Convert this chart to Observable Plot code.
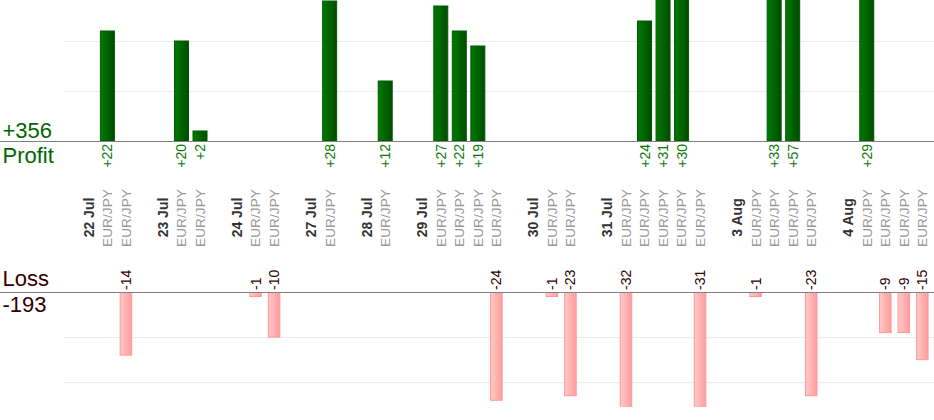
<!DOCTYPE html>
<html>
<head>
<meta charset="utf-8">
<script src="https://cdn.jsdelivr.net/npm/d3@7"></script>
<script src="https://cdn.jsdelivr.net/npm/@observablehq/plot@0.6"></script>
<style>
  html, body { margin: 0; padding: 0; background: #fff; }
  #chart { width: 934px; height: 420px; overflow: hidden; }
  #chart svg { display: block; }
</style>
</head>
<body>
<div id="chart"></div>
<script>
// ---- data ----
const dates = ["22 Jul", "23 Jul", "24 Jul", "27 Jul", "28 Jul", "29 Jul", "30 Jul", "31 Jul", "3 Aug", "4 Aug"];
const tradesByDay = [
  [22, -14],
  [20, 2],
  [-1, -10],
  [28],
  [12],
  [27, 22, 19, -24],
  [-1, -23],
  [-32, 24, 31, 30, -31],
  [-1, 33, 57, -23],
  [29, -9, -9, -15]
];
const pair = "EUR/JPY";
const profitTicks = [10, 20];
const lossTicks = [-10, -20];

// ---- table of columns ----
const slots = [];
dates.forEach((d, i) => {
  slots.push({kind: "gap", label: ""});
  slots.push({kind: "date", label: d});
  tradesByDay[i].forEach(v => slots.push({kind: "trade", label: pair, value: v}));
});
slots.forEach((s, i) => (s.slot = i));
const profits = slots.filter(s => s.kind === "trade" && s.value > 0);
const losses = slots.filter(s => s.kind === "trade" && s.value < 0);
const profitTotal = "+" + d3.sum(profits, d => d.value);
const lossTotal = String(d3.sum(losses, d => d.value));

const W = 934;
const font = "'Liberation Sans', Arial, sans-serif";
const xScale = {type: "band", domain: slots.map(s => s.slot), range: [61.1, 931.6], padding: 0, round: false, axis: null};
const green = "#0a7a0a";
const dark = "#330000";

// ---- top panel: profit ----
const profitChart = Plot.plot({
  width: W, height: 260,
  marginLeft: 0, marginRight: 0, marginTop: 0, marginBottom: 119,
  style: {fontFamily: font, background: "white", overflow: "hidden"},
  x: xScale,
  y: {domain: [0, 28.2], range: [141, 0], axis: null},
  marks: [
    Plot.ruleY(profitTicks, {stroke: "#ebebeb", insetLeft: 63}),
    Plot.barY(profits, {x: "slot", y: "value", fill: "url(#gradProfit)", stroke: "#005a00", strokeWidth: 1, insetLeft: 2.26, insetRight: 2.26, clip: true}),
    Plot.ruleY([0], {stroke: "#808080", strokeWidth: 1.2}),
    Plot.text(profits, {x: "slot", y: 0, text: d => "+" + d.value, rotate: -90, textAnchor: "end", lineAnchor: "middle", dy: 2.5, fill: green, fontSize: 14}),
    Plot.text(slots.filter(s => s.kind === "date"), {x: "slot", frameAnchor: "bottom", lineAnchor: "middle", dy: 76, text: "label", rotate: -90, textAnchor: "middle", fill: "#333", fontWeight: "bold", fontSize: 14}),
    Plot.text(slots.filter(s => s.kind === "trade"), {x: "slot", frameAnchor: "bottom", lineAnchor: "middle", dy: 76.5, text: "label", rotate: -90, textAnchor: "middle", fill: "#999", fontSize: 13.7}),
    Plot.text([profitTotal], {frameAnchor: "bottom-left", lineAnchor: "middle", text: d => d, textAnchor: "start", dx: 2, dy: -10.5, fill: "#006600", fontSize: 22}),
    Plot.text(["Profit"], {frameAnchor: "bottom-left", lineAnchor: "middle", text: d => d, textAnchor: "start", dx: 2, dy: 14.5, fill: "#006600", fontSize: 22})
  ]
});

// ---- bottom panel: loss ----
const lossChart = Plot.plot({
  width: W, height: 160,
  marginLeft: 0, marginRight: 0, marginTop: 32, marginBottom: 13,
  style: {fontFamily: font, background: "white", overflow: "hidden"},
  x: xScale,
  y: {domain: [0, -25.5], range: [32, 147], axis: null},
  marks: [
    Plot.ruleY(lossTicks, {stroke: "#ebebeb", insetLeft: 63}),
    Plot.barY(losses, {x: "slot", y: "value", fill: "url(#gradLoss)", stroke: "#ff9999", strokeWidth: 1, insetLeft: 3.5, insetRight: 3.5, clip: true}),
    Plot.ruleY([0], {stroke: "#808080", strokeWidth: 1.2}),
    Plot.text(losses, {x: "slot", y: 0, text: d => String(d.value), rotate: -90, textAnchor: "start", lineAnchor: "middle", dy: -2.5, fill: dark, fontSize: 14}),
    Plot.text(["Loss"], {frameAnchor: "top-left", lineAnchor: "middle", text: d => d, textAnchor: "start", dx: 2, dy: -13.3, fill: dark, fontSize: 22}),
    Plot.text([lossTotal], {frameAnchor: "top-left", lineAnchor: "middle", text: d => d, textAnchor: "start", dx: 2, dy: 12.7, fill: dark, fontSize: 22})
  ]
});

function addGradient(svg, id, c0, c1) {
  let defs = d3.select(svg).select("defs");
  if (defs.empty()) defs = d3.select(svg).insert("defs", ":first-child");
  const g = defs.append("linearGradient").attr("id", id).attr("x1", "0").attr("x2", "1").attr("y1", "0").attr("y2", "0");
  g.append("stop").attr("offset", "0%").attr("stop-color", c0);
  g.append("stop").attr("offset", "100%").attr("stop-color", c1);
}
addGradient(profitChart, "gradProfit", "#007a00", "#004c00");
addGradient(lossChart, "gradLoss", "#ffcaca", "#ff9c9c");

const chart = document.getElementById("chart");
chart.appendChild(profitChart);
chart.appendChild(lossChart);
</script>
</body>
</html>
